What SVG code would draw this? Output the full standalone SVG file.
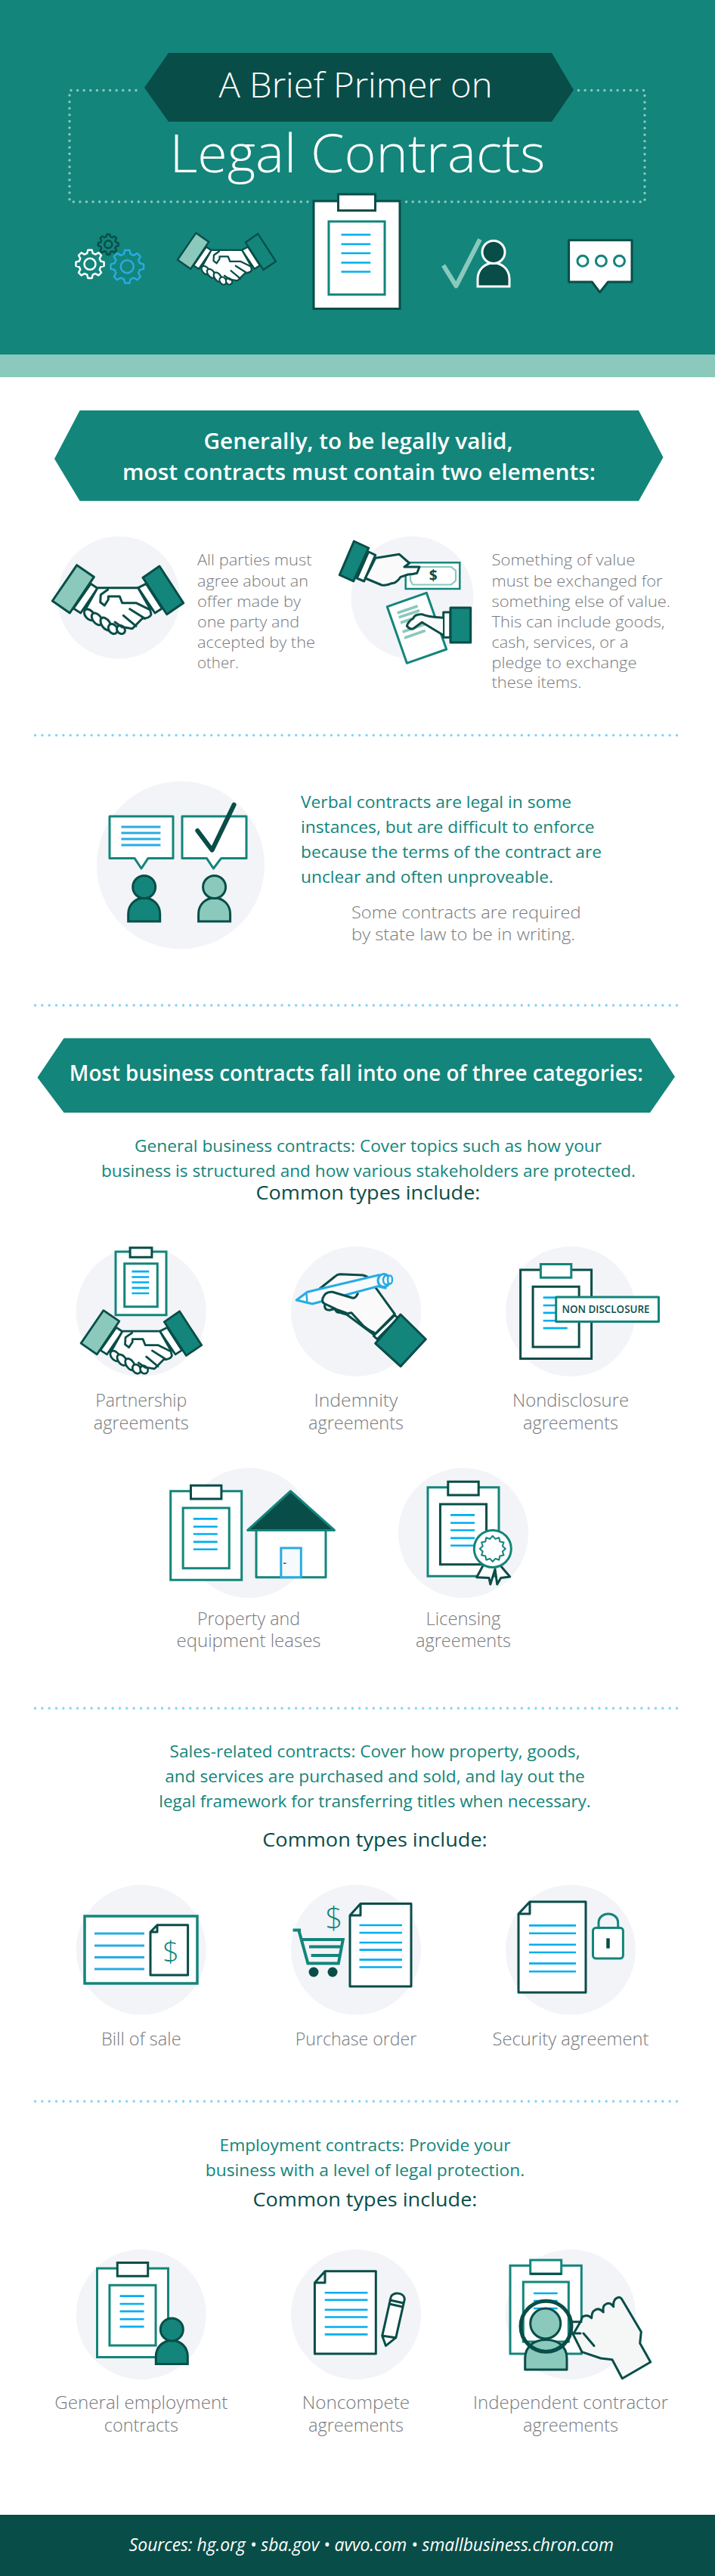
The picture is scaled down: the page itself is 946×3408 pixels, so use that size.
<svg xmlns="http://www.w3.org/2000/svg" width="946" height="3408" viewBox="0 0 946 3408">
<style>
text{font-family:"Open Sans","Noto Sans","Liberation Sans",sans-serif}
.g{font-weight:300;fill:#77797c}
.t{font-weight:400;fill:#13857b}
.h{font-weight:600;fill:#fff;text-anchor:middle}
.c{font-weight:400;fill:#094d48;font-size:26px;text-anchor:middle}
.m{text-anchor:middle}
.s20{font-size:20px}.s22{font-size:22.5px}.s23{font-size:23px}
.bg{fill:#f2f4f8}
.dot{fill:none;stroke:#84d3f5;stroke-width:3.5;stroke-linecap:round;stroke-dasharray:0 9.33}
.hd{fill:none;stroke:#8ac9bc;stroke-width:3.5;stroke-linecap:round;stroke-dasharray:0 8.6}
.bl{stroke:#00aeef;stroke-width:2.6;fill:none}
.dk{stroke:#094d48;stroke-width:3;stroke-linejoin:round;stroke-linecap:round}
.te{stroke:#13857b;stroke-width:3;stroke-linejoin:round;stroke-linecap:round}
.wf{fill:#fff}.ff{fill:#fafafa}.nf{fill:none}
.clipb .b{fill:#fff;stroke:var(--b);stroke-width:3;vector-effect:non-scaling-stroke}
.clipb .c1{fill:#fff;stroke:var(--c);stroke-width:3;vector-effect:non-scaling-stroke}
.clipb .s{fill:#fff;stroke:var(--s);stroke-width:3;vector-effect:non-scaling-stroke}
.clipb .l{stroke:#00aeef;stroke-width:2.6;vector-effect:non-scaling-stroke}
</style>
<defs>
<polygon id="gear" points="7.53,-2.02 9.9,-1.39 9.9,1.39 7.53,2.02 6.75,3.9 7.99,6.02 6.02,7.99 3.9,6.75 2.02,7.53 1.39,9.9 -1.39,9.9 -2.02,7.53 -3.9,6.75 -6.02,7.99 -7.99,6.02 -6.75,3.9 -7.53,2.02 -9.9,1.39 -9.9,-1.39 -7.53,-2.02 -6.75,-3.9 -7.99,-6.02 -6.02,-7.99 -3.9,-6.75 -2.02,-7.53 -1.39,-9.9 1.39,-9.9 2.02,-7.53 3.9,-6.75 6.02,-7.99 7.99,-6.02 6.75,-3.9" fill="none" stroke-linejoin="round"/>
<g id="person"><path d="M-21,0V-10C-21,-22 -12,-31 0,-31C12,-31 21,-22 21,-10V0Z"/><ellipse cx="0" cy="-45.5" rx="15" ry="15"/></g>
<g id="hs" class="dk" stroke-width="2.800">
<polygon points="120,772.300 129,778.300 106.700,811 97.300,805" class="wf"/>
<polygon points="193.300,772.300 182.700,777.700 205,811 214.300,805" class="wf"/>
<path d="M129,777.700H182.700L198.300,805L200,813Q198,818 188.300,818.300L175,831.700L165,830L150,835L112,808Z" class="wf"/>
<ellipse cx="118.300" cy="813.300" rx="8.500" ry="5.500" transform="rotate(50 118.300 813.300)" class="wf"/>
<ellipse cx="128.300" cy="819" rx="9" ry="5.500" transform="rotate(52 128.300 819)" class="wf"/>
<ellipse cx="140" cy="825.500" rx="9.500" ry="5.500" transform="rotate(55 140 825.500)" class="wf"/>
<ellipse cx="149.300" cy="832" rx="7" ry="5.500" transform="rotate(55 149.300 832)" class="wf"/>
<ellipse cx="160" cy="833" rx="6" ry="5" transform="rotate(50 160 833)" class="wf"/>
<path d="M142.700,780L133.300,786.700L132.700,796.700L138.300,801L143.300,793.300V789H158.300L161.700,797.700H180L198.300,806.700" class="nf"/>
<path d="M171.700,805.700L191.700,818.300M163.300,814.300L180,828.300M152,823L162,830" class="nf"/>
<polygon points="101.700,747.700 124.300,763.300 92.300,811 69.300,795" fill="#8ac9bc"/>
<polygon points="211,749 242.700,797.700 220.700,812.700 189,764.300" fill="#13857b"/>
</g>
<g id="clipb" class="clipb">
<rect class="b" x="0" y="0" width="100" height="125"/>
<rect class="c1" x="28.5" y="-8" width="43" height="19"/>
<rect class="s" x="17.5" y="23.6" width="65" height="85"/>
<path class="l" d="M32,39H66M32,50H66M32,60.5H66M32,71.5H66M32,82H66"/>
</g>
</defs>

<g id="header">
<rect x="0" y="0" width="946" height="470" fill="#13857b"/>
<rect x="0" y="469" width="946" height="30" fill="#8ac9bc"/>
<path class="hd" d="M180,119.500H92V267H415M529,267H853V119.500H765"/>
<polygon points="191,116 223,70 730,70 759,119 730,161 223,161" fill="#094d48"/>
<text x="470.500" y="129" font-size="46" font-weight="300" fill="#fff" text-anchor="middle" textLength="362" lengthAdjust="spacingAndGlyphs">A Brief Primer on</text>
<text x="473" y="228.300" font-size="70" font-weight="300" fill="#fff" text-anchor="middle" textLength="497" lengthAdjust="spacingAndGlyphs">Legal Contracts</text>
<g id="hdr-gears" stroke-width="2.500">
<g stroke="#fff"><use href="#gear" transform="translate(119,349.300) scale(1.880)" stroke-width="1.300"/><circle cx="119" cy="349.300" r="7.500" fill="none"/></g>
<g stroke="#29abe2"><use href="#gear" transform="translate(168.300,352.700) scale(2.200)" stroke-width="1.100"/><circle cx="168.300" cy="352.700" r="8.500" fill="none"/></g>
<g stroke="#094d48"><use href="#gear" transform="translate(143.300,323.300) scale(1.350)" stroke-width="1.800"/><circle cx="143.300" cy="323.300" r="5" fill="none"/></g>
</g>
<use id="hdr-handshake" href="#hs" transform="translate(183,-252.500) scale(.75)"/>
<use id="hdr-clipboard" href="#clipb" transform="translate(415,266) scale(1.140)" style="--b:#094d48;--c:#094d48;--s:#13857b"/>
<g id="hdr-person">
<path d="M586.600,351L603.500,378.300L635,316.700" fill="none" stroke="#8ac9bc" stroke-width="6" stroke-linejoin="round"/>
<use href="#person" transform="translate(653,379)" fill="#094d48" stroke="#fff" stroke-width="3"/>
</g>
<g id="hdr-bubble">
<path class="dk wf" d="M752.600,317.700H836V373H804.500L793.600,386.700L783.300,373H752.600Z"/>
<circle cx="771" cy="345.300" r="7" class="te nf"/><circle cx="795.400" cy="345.300" r="7" class="te nf"/><circle cx="819.500" cy="345.300" r="7" class="te nf"/>
</g>
</g>

<g id="banner-1">
<polygon points="72,607 105.600,543 845,543 877.500,605 845,662.700 105.600,662.700" fill="#13857b"/>
<text class="h" x="474" y="594" font-size="29" textLength="409" lengthAdjust="spacingAndGlyphs">Generally, to be legally valid,</text>
<text class="h" x="475" y="635" font-size="29" textLength="626" lengthAdjust="spacingAndGlyphs">most contracts must contain two elements:</text>
</g>

<g id="element-agree">
<circle class="bg" cx="157" cy="790.500" r="81"/>
<use href="#hs"/>
<g class="g s20">
<text x="261" y="748" textLength="151.500" lengthAdjust="spacingAndGlyphs">All parties must</text>
<text x="261" y="775.500" textLength="147" lengthAdjust="spacingAndGlyphs">agree about an</text>
<text x="261" y="802.500" textLength="137" lengthAdjust="spacingAndGlyphs">offer made by</text>
<text x="261" y="829.500" textLength="135" lengthAdjust="spacingAndGlyphs">one party and</text>
<text x="261" y="856.500" textLength="156" lengthAdjust="spacingAndGlyphs">accepted by the</text>
<text x="261" y="883.500" textLength="55" lengthAdjust="spacingAndGlyphs">other.</text>
</g>
</g>

<g id="element-value">
<circle class="bg" cx="545.500" cy="790.500" r="81"/>
<rect x="536.700" y="744.300" width="71.600" height="34.700" class="wf" stroke="#13857b" stroke-width="2.500"/>
<path d="M546,750H597L603,755V768L597,773.500H546L543,768V755Z" fill="none" stroke="#8ac9bc" stroke-width="2.200"/>
<text x="573.300" y="768" font-size="19" font-weight="700" fill="#094d48" text-anchor="middle">$</text>
<polygon class="dk wf" points="487.700,730 496.700,734.300 481.700,769 472.300,765"/>
<path class="dk ff" d="M496.700,738.300L528.300,733.300L541.700,745L535,750H555L551.700,758.300Q546,760 540,760L530,763.300Q524,772 518.300,771.700Q512,775 505,774L483.300,765Z"/>
<polygon class="dk" points="468.300,716 487.700,725 467.700,769 449.300,760.700" fill="#13857b"/>
<polygon class="te wf" points="512.300,802.700 564.300,784.300 590.700,859 538.300,877.300"/>
<path d="M525.700,811L552.700,801.700M527.700,816.700L555,807.700M530,824L555,815M532.700,836L561.700,826M535,844L562.700,834.300" stroke="#8ac9bc" stroke-width="3.600" fill="none"/>
<rect class="dk wf" x="586.700" y="810" width="9.300" height="33.300"/>
<path d="M586,817.300L558.300,812.700L546.700,818.300L538.300,828.300L546.700,831.700L558.300,823.300L586,840Z" class="ff"/>
<path class="dk nf" d="M586,817.300Q565,816 558.300,812.700Q548,812 546.700,818.300Q540,822 538.300,828.300Q542,833 546.700,831.700L558.300,823.300L586,840"/>
<rect class="dk" x="596" y="804" width="26.700" height="46" fill="#13857b"/>
<g class="g s20">
<text x="650.500" y="748" textLength="190" lengthAdjust="spacingAndGlyphs">Something of value</text>
<text x="650.500" y="775.500" textLength="226" lengthAdjust="spacingAndGlyphs">must be exchanged for</text>
<text x="650.500" y="802.500" textLength="236.600" lengthAdjust="spacingAndGlyphs">something else of value.</text>
<text x="650.500" y="829.500" textLength="229" lengthAdjust="spacingAndGlyphs">This can include goods,</text>
<text x="650.500" y="856.500" textLength="181" lengthAdjust="spacingAndGlyphs">cash, services, or a</text>
<text x="650.500" y="883.500" textLength="192" lengthAdjust="spacingAndGlyphs">pledge to exchange</text>
<text x="650.500" y="910" textLength="119" lengthAdjust="spacingAndGlyphs">these items.</text>
</g>
</g>

<g id="dividers">
<path class="dot" d="M46.500,972.700H896"/>
<path class="dot" d="M46.500,1330H896"/>
<path class="dot" d="M46.500,2260H896"/>
<path class="dot" d="M46.500,2780H896"/>
</g>

<g id="verbal">
<circle class="bg" cx="239" cy="1144.500" r="111"/>
<path class="te wf" d="M145,1080H229V1135.400H196L187,1149L178,1135.400H145Z"/>
<path d="M160.500,1094H212.400M160.500,1102H212.400M160.500,1110H212.400M160.500,1118H212.400" stroke="#29abe2" stroke-width="3" fill="none"/>
<path class="te wf" d="M241,1080H326V1135.400H292.700L282.400,1149L273.400,1135.400H241Z"/>
<path d="M261.300,1099L280.600,1124.700L309.600,1064.600" fill="none" stroke="#094d48" stroke-width="6" stroke-linecap="round" stroke-linejoin="round"/>
<use href="#person" transform="translate(190.700,1219)" fill="#13857b" stroke="#094d48" stroke-width="3"/>
<use href="#person" transform="translate(283.600,1219)" fill="#8ac9bc" stroke="#094d48" stroke-width="3"/>
<g class="t s22">
<text x="398" y="1069" textLength="358" lengthAdjust="spacingAndGlyphs">Verbal contracts are legal in some</text>
<text x="398" y="1102" textLength="388.600" lengthAdjust="spacingAndGlyphs">instances, but are difficult to enforce</text>
<text x="398" y="1135.400" textLength="398" lengthAdjust="spacingAndGlyphs">because the terms of the contract are</text>
<text x="398" y="1168" textLength="334" lengthAdjust="spacingAndGlyphs">unclear and often unproveable.</text>
</g>
<g class="g s22">
<text x="465" y="1214.600" textLength="303.500" lengthAdjust="spacingAndGlyphs">Some contracts are required</text>
<text x="465" y="1243.700" textLength="296" lengthAdjust="spacingAndGlyphs">by state law to be in writing.</text>
</g>
</g>

<g id="banner-2">
<polygon points="49.500,1425.500 84.500,1373.500 860,1373.500 893,1424.500 860,1472 84.500,1472" fill="#13857b"/>
<text class="h" x="471.300" y="1430" font-size="29" textLength="759" lengthAdjust="spacingAndGlyphs">Most business contracts fall into one of three categories:</text>
</g>

<g id="general-intro">
<text class="t s22 m" x="487" y="1524" textLength="618" lengthAdjust="spacingAndGlyphs">General business contracts: Cover topics such as how your</text>
<text class="t s22 m" x="487.500" y="1557" textLength="707" lengthAdjust="spacingAndGlyphs">business is structured and how various stakeholders are protected.</text>
<text class="c" x="487" y="1587" textLength="297" lengthAdjust="spacingAndGlyphs">Common types include:</text>
</g>

<g id="partnership">
<circle class="bg" cx="186.800" cy="1735" r="86"/>
<use href="#clipb" transform="translate(153,1656) scale(.67)" style="--b:#13857b;--c:#094d48;--s:#13857b"/>
<use href="#hs" transform="translate(43.400,1045.700) scale(.92)"/>
<g class="g s23 m"><text x="186.800" y="1861" textLength="121" lengthAdjust="spacingAndGlyphs">Partnership</text><text x="186.800" y="1890.500" textLength="126" lengthAdjust="spacingAndGlyphs">agreements</text></g>
</g>

<g id="indemnity">
<circle class="bg" cx="471" cy="1735" r="86"/>
<path class="dk ff" d="M522.300,1738.500L499.300,1706.700L487,1690Q484,1688 480,1687L450,1685.700Q446,1686 443,1689L421.700,1706L430,1725L460,1740L495,1766Z"/>
<path d="M392.300,1720L406.700,1709.300L501.700,1686.700L510,1704L500,1701.700L413.300,1725Z" fill="#f8fbfd" stroke="#29abe2" stroke-width="3.200" stroke-linejoin="round"/>
<path d="M405.500,1711.500L406.500,1724" stroke="#29abe2" stroke-width="2.500" fill="none"/>
<ellipse cx="508" cy="1694" rx="8" ry="8.500" fill="#f8fbfd" stroke="#29abe2" stroke-width="3.200"/>
<ellipse cx="511" cy="1693.500" rx="4" ry="6" fill="#f8fbfd" stroke="#29abe2" stroke-width="2.500"/>
<ellipse cx="516" cy="1693" rx="3" ry="5.500" fill="#f8fbfd" stroke="#29abe2" stroke-width="2.500"/>
<path d="M473.300,1711.700L466.700,1717.300L440,1709.300L430,1710L426.700,1718.300L430,1725L433.300,1733.300L443.300,1731.700L446.700,1736.700L458.300,1738.300L465,1736.700L480,1753.300L495,1763Z" fill="#fafafa"/>
<path class="dk nf" d="M473.300,1711.700Q470,1718 466.700,1717.300L440,1709.300Q430,1708 426.700,1718.300Q426,1724 430,1725Q428,1733 436,1733.300Q440,1732 443.300,1731.700Q445,1737 450,1736.500Q455,1739 458.300,1738.300Q462,1737 465,1736.700L480,1753.300Q488,1760 495,1763M430,1725L444,1731.700M443.300,1731.700L458,1737"/>
<polygon class="dk wf" points="522.300,1740 494.300,1767.300 499,1771.700 526.700,1744"/>
<polygon class="dk" points="530,1739 563.300,1771.700 530,1807.700 496.700,1777.300" fill="#13857b"/>
<g class="g s23 m"><text x="471" y="1861" textLength="111" lengthAdjust="spacingAndGlyphs">Indemnity</text><text x="471" y="1890.500" textLength="126" lengthAdjust="spacingAndGlyphs">agreements</text></g>
</g>

<g id="nondisclosure">
<circle class="bg" cx="755" cy="1735" r="86"/>
<use href="#clipb" transform="translate(688.600,1680) scale(.94)" style="--b:#094d48;--c:#13857b;--s:#094d48"/>
<rect x="735.700" y="1716" width="135.800" height="32.500" class="te wf"/>
<text x="801.500" y="1737" font-size="14.700" font-weight="600" fill="#094d48" text-anchor="middle" textLength="116" lengthAdjust="spacingAndGlyphs">NON DISCLOSURE</text>
<g class="g s23 m"><text x="755" y="1861" textLength="154" lengthAdjust="spacingAndGlyphs">Nondisclosure</text><text x="755" y="1890.500" textLength="126" lengthAdjust="spacingAndGlyphs">agreements</text></g>
</g>

<g id="property">
<circle class="bg" cx="329" cy="2028" r="86"/>
<use href="#clipb" transform="translate(225.700,1972.700) scale(.94)" style="--b:#13857b;--c:#094d48;--s:#13857b"/>
<rect x="339" y="2024.400" width="92" height="62.300" class="te wf"/>
<polygon points="384.400,1972.700 442.400,2024.400 327.700,2024.400" fill="#094d48" stroke="#13857b" stroke-width="3" stroke-linejoin="round"/>
<rect x="371.800" y="2048" width="26.500" height="38.700" fill="#f7fafd" stroke="#29abe2" stroke-width="3"/>
<rect x="375" y="2067.500" width="3.500" height="1.500" fill="#7a2d4d"/>
<g class="g s23 m"><text x="329" y="2150" textLength="136" lengthAdjust="spacingAndGlyphs">Property and</text><text x="329" y="2179" textLength="191" lengthAdjust="spacingAndGlyphs">equipment leases</text></g>
</g>

<g id="licensing">
<circle class="bg" cx="613" cy="2028" r="86"/>
<use href="#clipb" transform="translate(566,1967.700) scale(.94)" style="--b:#13857b;--c:#094d48;--s:#094d48"/>
<path class="dk wf" d="M639.700,2070L630.700,2086.700L647,2087.500L648.800,2096L655,2076L657.800,2096L662.700,2087.500L674.700,2086L661,2070Z"/>
<circle cx="651.800" cy="2049" r="24.500" class="te wf"/>
<polygon transform="translate(651.800,2049)" fill="none" stroke="#13857b" stroke-width="2" stroke-linejoin="round" points="17,0 13.04,3.49 14.72,8.500 9.550,9.550 8.500,14.720 3.490,13.040 0,17 -3.490,13.040 -8.500,14.720 -9.550,9.550 -14.720,8.500 -13.040,3.490 -17,0 -13.040,-3.490 -14.720,-8.500 -9.550,-9.550 -8.500,-14.720 -3.490,-13.040 0,-17 3.490,-13.040 8.500,-14.720 9.550,-9.550 14.720,-8.500 13.040,-3.490"/>
<g class="g s23 m"><text x="613" y="2150" textLength="99" lengthAdjust="spacingAndGlyphs">Licensing</text><text x="613" y="2179" textLength="126" lengthAdjust="spacingAndGlyphs">agreements</text></g>
</g>

<g id="sales-intro">
<text class="t s22 m" x="496" y="2325" textLength="543" lengthAdjust="spacingAndGlyphs">Sales-related contracts: Cover how property, goods,</text>
<text class="t s22 m" x="496" y="2358.400" textLength="555.700" lengthAdjust="spacingAndGlyphs">and services are purchased and sold, and lay out the</text>
<text class="t s22 m" x="496" y="2391.300" textLength="571.500" lengthAdjust="spacingAndGlyphs">legal framework for transferring titles when necessary.</text>
<text class="c" x="496" y="2442.600" textLength="297.500" lengthAdjust="spacingAndGlyphs">Common types include:</text>
</g>

<g id="bill-of-sale">
<circle class="bg" cx="186.800" cy="2579.600" r="86"/>
<rect x="112" y="2535" width="149" height="89" class="wf" stroke="#13857b" stroke-width="3.500"/>
<path d="M125,2558H191M125,2574H191M125,2589.500H191M125,2605H191" stroke="#29abe2" stroke-width="3.200" fill="none"/>
<path class="dk wf" stroke-width="2.500" d="M208,2546.700H248.600V2613H199V2556ZM199,2556H208V2546.700"/>
<text x="226" y="2595.700" font-size="38" font-weight="300" fill="#13857b" text-anchor="middle">$</text>
<text class="g s23 m" x="186.800" y="2705.500" textLength="105.600" lengthAdjust="spacingAndGlyphs">Bill of sale</text>
</g>

<g id="purchase-order">
<circle class="bg" cx="471" cy="2579.600" r="86"/>
<path class="dk wf" d="M477,2518.400H544V2628H463V2534ZM463,2534H477V2518.400"/>
<path class="bl" d="M475.500,2547H532M475.500,2557H532M475.500,2570H532M475.500,2579.600H532M475.500,2592.600H532M475.500,2602.500H532"/>
<text x="442" y="2551.600" font-size="40" font-weight="300" fill="#13857b" text-anchor="middle">$</text>
<path d="M387.500,2553.600H398M395.300,2553.600L407.400,2597.600H447.800L453.800,2566H398M409,2575.400H450.800M411.600,2587H449.600" fill="none" stroke="#13857b" stroke-width="4"/>
<circle cx="415" cy="2609" r="6.500" fill="#094d48"/><circle cx="440" cy="2609" r="6.500" fill="#094d48"/>
<text class="g s23 m" x="471" y="2705.500" textLength="160.500" lengthAdjust="spacingAndGlyphs">Purchase order</text>
</g>

<g id="security-agreement">
<circle class="bg" cx="755" cy="2579.600" r="86"/>
<path class="dk wf" d="M701,2516H775V2636H686V2532ZM686,2532H701V2516"/>
<path class="bl" d="M700,2547.400H762M700,2557.800H762M700,2572.700H762M700,2583H762M700,2597.600H762M700,2608.300H762"/>
<path d="M792,2550.500V2544C792,2528 817.700,2528 817.700,2544V2550.500" class="te nf" stroke-width="3.500"/>
<rect x="784.500" y="2550.500" width="39.900" height="40.500" rx="4" class="te wf"/>
<path d="M804.500,2564.300V2577.700" stroke="#094d48" stroke-width="4.500" fill="none"/>
<text class="g s23 m" x="755" y="2705.500" textLength="207" lengthAdjust="spacingAndGlyphs">Security agreement</text>
</g>

<g id="employment-intro">
<text class="t s22 m" x="483" y="2846.400" textLength="385" lengthAdjust="spacingAndGlyphs">Employment contracts: Provide your</text>
<text class="t s22 m" x="483" y="2879" textLength="422.400" lengthAdjust="spacingAndGlyphs">business with a level of legal protection.</text>
<text class="c" x="483" y="2919" textLength="297" lengthAdjust="spacingAndGlyphs">Common types include:</text>
</g>

<g id="general-employment">
<circle class="bg" cx="186.800" cy="3062" r="86"/>
<use href="#clipb" transform="translate(128.500,3001) scale(.94)" style="--b:#13857b;--c:#094d48;--s:#13857b"/>
<use href="#person" transform="translate(227.300,3127.400)" fill="#13857b" stroke="#094d48" stroke-width="3"/>
<g class="g s23 m"><text x="186.800" y="3187.300" textLength="229" lengthAdjust="spacingAndGlyphs">General employment</text><text x="186.800" y="3216.500" textLength="98" lengthAdjust="spacingAndGlyphs">contracts</text></g>
</g>

<g id="noncompete">
<circle class="bg" cx="471" cy="3062" r="86"/>
<path class="dk wf" d="M430,3004.800H497.300V3114H416.400V3020ZM416.400,3020H430V3004.800"/>
<path class="bl" d="M429.700,3033.200H486.400M429.700,3042.700H486.400M429.700,3055.700H486.400M429.700,3065.500H486.400M429.700,3078.500H486.400M429.700,3088.400H486.400"/>
<path d="M505.700,3090.300L517.200,3039C519,3032 535,3032 535.300,3042L523.800,3092.700L510.500,3103.400ZM516,3043L534,3047M515,3048L533,3052M505.700,3090.300L523.800,3092.700" class="dk" fill="#fff" stroke-width="2.200"/>
<g class="g s23 m"><text x="471" y="3187.300" textLength="142.400" lengthAdjust="spacingAndGlyphs">Noncompete</text><text x="471" y="3216.500" textLength="126" lengthAdjust="spacingAndGlyphs">agreements</text></g>
</g>

<g id="independent">
<circle class="bg" cx="755" cy="3062" r="86"/>
<rect x="675" y="2997.300" width="94.300" height="116.700" fill="#fff" stroke="#13857b" stroke-width="3"/>
<rect x="701.700" y="2990" width="41" height="18.300" fill="#fff" stroke="#13857b" stroke-width="3"/>
<path d="M701.700,3008.300H742.700" stroke="#094d48" stroke-width="3"/>
<rect x="692.300" y="3019" width="60" height="79" fill="#fff" stroke="#13857b" stroke-width="3"/>
<path d="M706,3034H737.700M706,3044H737.700M706,3054H737.700" class="bl"/>
<path class="dk" fill="#f5f7f7" d="M769,3070Q770,3064 773.300,3064Q778,3062 782.700,3066.700Q783,3058 786.700,3056.700Q792,3052 798.300,3059Q797,3050 801.700,3048.300Q807,3045 811.700,3051.700Q811,3042 816.700,3040Q820,3038 822.700,3041.700L848.300,3085L846.700,3100L860.700,3125L823.300,3146.700L810,3121.700L795,3120L770,3111.700L758.300,3088.300Z"/>
<path d="M757,3071.800H769M757,3087H768" class="dk nf"/>
<path d="M772,3087L786,3103.500" class="dk nf" stroke-width="4.500"/>
<path d="M694.700,3135V3120C694.700,3104 707,3095.500 722.400,3095.500C738,3095.500 750,3104 750,3120V3135Z" fill="#8ac9bc" class="dk"/>
<circle cx="721.700" cy="3074" r="20" fill="#8ac9bc" class="dk"/>
<circle cx="722.500" cy="3077.700" r="33.500" fill="none" stroke="#094d48" stroke-width="5"/>
<g class="g s23 m"><text x="755" y="3187.300" textLength="258" lengthAdjust="spacingAndGlyphs">Independent contractor</text><text x="755" y="3216.500" textLength="126" lengthAdjust="spacingAndGlyphs">agreements</text></g>
</g>

<g id="footer">
<rect x="0" y="3327" width="946" height="81" fill="#094d48"/>
<text x="491.300" y="3374.500" font-size="23" font-style="italic" font-weight="400" fill="#fff" text-anchor="middle" textLength="641" lengthAdjust="spacingAndGlyphs">Sources: hg.org • sba.gov • avvo.com • smallbusiness.chron.com</text>
</g>
</svg>
